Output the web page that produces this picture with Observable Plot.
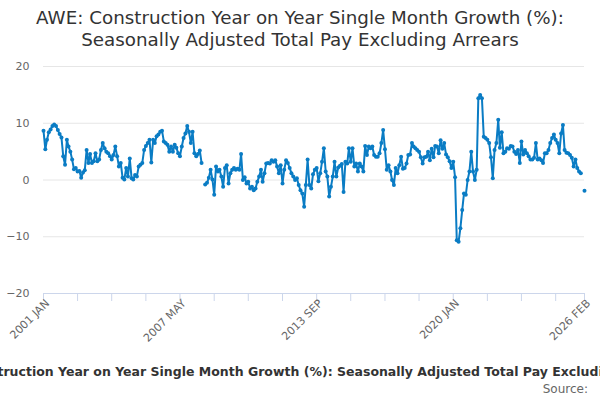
<!DOCTYPE html>
<html>
<head>
<meta charset="utf-8">
<script src="https://cdn.jsdelivr.net/npm/d3@7"></script>
<script src="https://cdn.jsdelivr.net/npm/@observablehq/plot@0.6"></script>
<style>
  html, body { margin: 0; padding: 0; background: #fff; }
  body { width: 600px; height: 400px; overflow: hidden; position: relative; font-family: "DejaVu Sans", Verdana, sans-serif; }
  #title { position: absolute; top: 7px; left: 0; width: 600px; text-align: center; font-size: 18.3px; line-height: 22px; color: #333; }
  #chart { position: absolute; top: 56px; left: 0; }
  #caption { position: absolute; top: 364px; left: 300px; transform: translateX(-50%); white-space: nowrap; font-size: 12.5px; font-weight: bold; color: #333; }
  #source { position: absolute; top: 382px; right: 12px; font-size: 12px; color: #666; }
</style>
</head>
<body>
<div id="title">AWE: Construction Year on Year Single Month Growth (%):<br>Seasonally Adjusted Total Pay Excluding Arrears</div>
<div id="chart"></div>
<div id="caption">AWE: Construction Year on Year Single Month Growth (%): Seasonally Adjusted Total Pay Excluding Arrears</div>
<div id="source">Source:</div>
<script>
// Monthly values, 2001 JAN .. 2026 FEB (null = missing month)
const startYear = 2001;
const startMonth = 0; // JAN
const growth = [
  8.7, 5.4, 7.1, 8.4, 8.9, 9.5, 9.8, 9.5, 8.8, 8.1, 7.5, 4.2,
  2.7, 7.1, 5.9, 5.0, 3.6, 1.9, 2.1, 1.5, 1.6, 0.4, 1.3, 1.7,
  5.3, 3.0, 4.6, 3.0, 3.3, 4.7, 3.3, 3.6, 5.3, 6.5, 5.6, 5.0,
  4.7, 4.2, 3.6, 4.4, 5.9, 4.2, 2.4, 3.0, 0.4, 0.1, 2.1, 0.6,
  3.8, 0.3, 0.1, 0.9, 0.6, 2.4, 2.7, 3.0, 5.3, 6.0, 6.5, 7.1,
  3.1, 7.1, 6.5, 7.7, 8.0, 8.5, 8.7, 6.8, 6.5, 6.2, 5.0, 5.9,
  5.0, 6.2, 5.7, 4.7, 4.2, 5.9, 7.4, 8.2, 9.5, 8.5, 6.5, 8.5,
  4.7, 4.2, 4.6, 5.2, 3.0, null, -0.8, -0.5, 0.4, 1.8, 0.1, -2.6,
  2.4, 1.5, 1.8, 0.6, -1.2, 2.1, 2.6, -0.6, 1.2, 1.8, 2.1, 1.8,
  2.0, 1.8, 4.6, 0.0, 0.5, -0.6, -0.3, -1.5, -1.2, -1.8, -1.5, -0.3,
  0.6, 1.8, -0.3, 1.2, 2.9, 3.0, 2.9, 3.5, 3.2, 3.5, 2.4, 1.2,
  2.6, -0.6, 1.8, 3.5, 3.0, 2.1, 1.2, 0.6, 0.0, 0.3, -0.9, -1.8,
  -2.4, -4.7, -0.9, 3.6, -0.9, -1.5, 1.0, 1.8, 2.1, -0.2, 1.2, 3.2,
  5.6, 1.5, 0.6, -2.9, -1.2, 0.6, 3.2, 0.6, 2.2, 2.5, 2.8, -2.1,
  3.2, 2.9, 5.6, 3.2, 5.6, 2.4, 2.9, 1.5, 2.9, 2.4, 1.5, 6.0,
  4.4, 5.9, 5.6, 5.9, 4.4, 4.1, 4.1, 4.7, 6.5, 8.8, 5.4, 1.8,
  2.6, 1.5, 0.0, -0.9, 2.1, 1.2, 2.6, 4.1, 2.0, 2.1, 2.9, 4.4,
  4.5, 6.5, 5.9, 5.6, 5.3, 5.0, 4.0, 2.9, 4.0, 4.1, 5.0, 3.5,
  5.5, 4.0, 6.0, 5.9, 4.7, 7.0, 5.5, 6.5, 4.5, 4.0, 3.3, 2.1,
  3.2, 0.5, -10.6, -10.9, -8.5, -5.3, -2.4, -2.6, 0.0, 1.5, 5.0, 1.5,
  0.0, 1.8, 14.4, 15.0, 14.4, 7.6, 7.4, 7.1, 6.5, 4.0, 0.3, 5.3,
  6.5, 10.6, 5.7, 8.4, 4.7, 5.0, 5.6, 5.5, 6.0, 5.9, 5.0, 4.6,
  5.3, 3.0, 6.8, 4.5, 5.3, 4.7, 4.2, 3.6, 3.6, 3.9, 6.5, 3.6,
  3.8, 3.5, 3.0, 4.7, 4.7, 5.3, 6.5, 7.4, 8.0, 7.1, 6.5, 4.7,
  8.2, 9.7, 5.3, 4.8, 4.7, 4.4, 3.9, 2.4, 3.6, 2.1, 1.5, 1.2,
  null, -1.9
];
const yTicks = [-20, -10, 0, 10, 20];
const xLabelIndex = [0, 76, 152, 228, 301];
const xLabels = ["2001 JAN", "2007 MAY", "2013 SEP", "2020 JAN", "2026 FEB"];
const xTickIndex = [0, 19, 38, 57, 76, 95, 114, 133, 152, 171, 190, 209, 228, 247, 266, 285, 301];

const monthDate = i => new Date(Date.UTC(startYear, startMonth + i, 1));
const data = growth.map((v, i) => ({date: monthDate(i), value: v}));
const labelMap = new Map(xLabelIndex.map((k, i) => [+monthDate(k), xLabels[i]]));
const blue = "#0a7cc4";

const chart = Plot.plot({
  width: 600,
  height: 300,
  marginLeft: 43,
  marginRight: 16,
  marginTop: 10,
  marginBottom: 63,
  style: {fontFamily: "DejaVu Sans, Verdana, sans-serif", background: "#fff"},
  x: {type: "utc", domain: [monthDate(0), monthDate(growth.length - 1)]},
  y: {domain: [-20, 20]},
  marks: [
    Plot.gridY(yTicks.filter(t => t > -20), {stroke: "#e6e6e6", strokeOpacity: 1}),
    Plot.axisY({ticks: yTicks, tickSize: 0, tickPadding: 14, fontSize: 11, fill: "#666", label: null}),
    Plot.ruleY([-20], {stroke: "#ccd6eb", strokeWidth: 1}),
    Plot.axisX({ticks: xTickIndex.map(monthDate), tickSize: 8, tickFormat: () => "", stroke: "#ccd6eb", strokeOpacity: 1, label: null}),
    Plot.axisX({ticks: xLabelIndex.map(monthDate), tickSize: 0, tickPadding: 8, tickRotate: -45, dx: 4,
      tickFormat: d => labelMap.get(+d), fontSize: 11, fill: "#666", label: null}),
    Plot.line(data, {x: "date", y: "value", stroke: blue, strokeWidth: 2, defined: d => d.value != null}),
    Plot.dot(data.filter(d => d.value != null), {x: "date", y: "value", r: 2, fill: blue, stroke: null})
  ]
});
document.getElementById("chart").appendChild(chart);
</script>
</body>
</html>
